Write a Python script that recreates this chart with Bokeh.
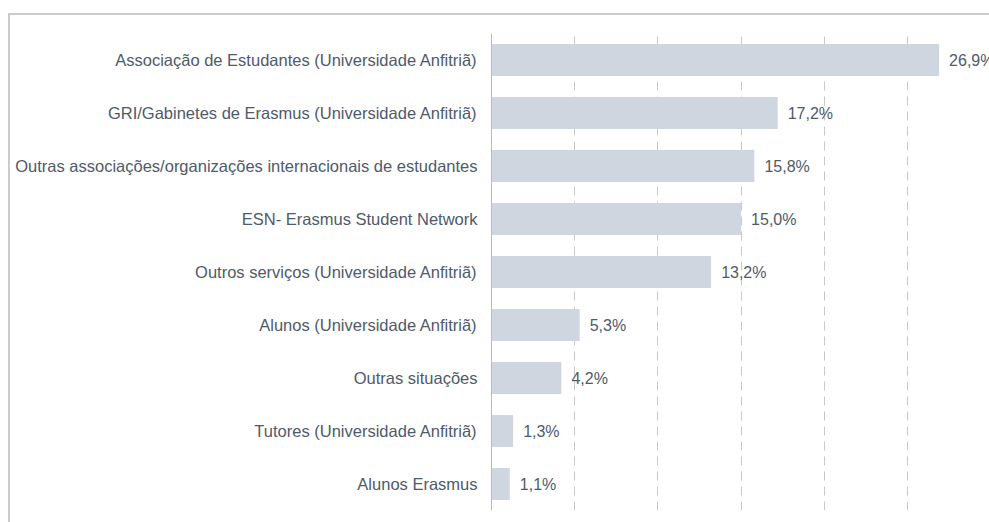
from bokeh.plotting import figure
from bokeh.models import FactorRange, Range1d, ColumnDataSource
from bokeh.core.properties import value
from bokeh.embed import file_html
from bokeh.resources import INLINE

categories = [
    "Associação de Estudantes (Universidade Anfitriã)",
    "GRI/Gabinetes de Erasmus (Universidade Anfitriã)",
    "Outras associações/organizações internacionais de estudantes",
    "ESN- Erasmus Student Network",
    "Outros serviços (Universidade Anfitriã)",
    "Alunos (Universidade Anfitriã)",
    "Outras situações",
    "Tutores (Universidade Anfitriã)",
    "Alunos Erasmus",
]
values = [26.9, 17.2, 15.8, 15.0, 13.2, 5.3, 4.2, 1.3, 1.1]
value_labels = ["26,9%", "17,2%", "15,8%", "15,0%", "13,2%", "5,3%", "4,2%", "1,3%", "1,1%"]
grid_ticks = [5, 10, 15, 20, 25]

FONT = "Liberation Sans"
TEXT = "#4f5a6b"
BAR = "#cfd6e0"
GREY = "#c8c8c8"

src = ColumnDataSource(dict(cat=categories, val=values, lab=value_labels))

p = figure(
    frame_width=498, frame_height=477,
    y_range=FactorRange(*reversed(categories)),
    x_range=Range1d(0, 29.93),
    output_backend="svg", toolbar_location=None,
    min_border_left=481, min_border_right=0,
    min_border_top=18, min_border_bottom=12,
    outline_line_color=None,
    styles={"margin-top": "13px",
            "margin-left": "8px",
            "box-sizing": "content-box",
            "border-top": "2px solid #cccccc",
            "border-left": "2px solid #cccccc"},
)

p.hbar(y="cat", right="val", left=0, height=0.6, source=src,
       fill_color=BAR, line_color=None)

p.text(x="val", y="cat", text="lab", source=src, x_offset=10,
       text_baseline="middle", text_align="left",
       text_font=value(FONT), text_font_size="16px", text_color=TEXT)

p.xaxis.visible = False
p.xaxis.ticker = grid_ticks
p.xgrid.ticker = grid_ticks
p.xgrid.grid_line_color = GREY
p.xgrid.grid_line_dash = "9 6"
p.xgrid.grid_line_width = 1
p.ygrid.grid_line_color = None

ax = p.yaxis[0]
ax.axis_line_color = "#bdbdbd"
ax.axis_line_width = 1
ax.major_tick_line_color = None
ax.minor_tick_line_color = None
ax.major_tick_out = 0
ax.major_tick_in = 0
ax.minor_tick_out = 0
ax.minor_tick_in = 0
ax.major_label_standoff = 14
ax.major_label_text_font = FONT
ax.major_label_text_font_size = "16.5px"
ax.major_label_text_color = TEXT

open("out.html", "w").write(file_html(p, INLINE))
